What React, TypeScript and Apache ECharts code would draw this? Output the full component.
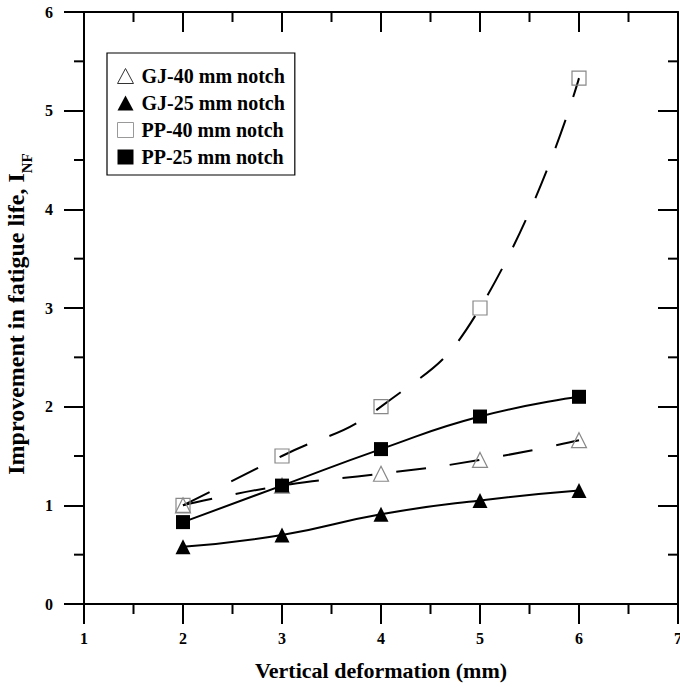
import React, { useEffect, useRef } from "react";
import * as echarts from "echarts";

const xValues = [2, 3, 4, 5, 6];
const gj40 = [1.0, 1.2, 1.32, 1.46, 1.66];
const gj25 = [0.58, 0.7, 0.91, 1.05, 1.15];
const pp40 = [1.0, 1.5, 2.0, 3.0, 5.33];
const pp25 = [0.83, 1.2, 1.57, 1.9, 2.1];
const seriesNames = ["GJ-40 mm notch", "GJ-25 mm notch", "PP-40 mm notch", "PP-25 mm notch"];
const xMinorTicks = [1.5, 2.5, 3.5, 4.5, 5.5, 6.5];
const yMinorTicks = [0.5, 1.5, 2.5, 3.5, 4.5, 5.5];

const FONT = "'Liberation Serif', 'Times New Roman', serif";
const X_MIN = 1, X_MAX = 7, Y_MIN = 0, Y_MAX = 6;
const MAJOR_LEN = 20, MINOR_LEN = 10;

function pairs(ys: number[]) {
  return xValues.map((x, i) => [x, ys[i]]);
}

function mkAxisLine() {
  return { show: true, onZero: false, lineStyle: { color: "#000", width: 2 } };
}
function mkTick(inside: boolean) {
  return { show: true, inside, length: MAJOR_LEN, lineStyle: { color: "#000", width: 2 } };
}

export default function App() {
  const ref = useRef<HTMLDivElement>(null);
  useEffect(() => {
    if (!ref.current) return;
    const chart = echarts.init(ref.current, undefined, { renderer: "svg" });
    const labelStyle = { fontFamily: FONT, fontWeight: "bold", fontSize: 16, color: "#000" };
    const openStyle = { color: "rgba(255,255,255,0)", borderColor: "#888", borderWidth: 1.2 };
    const dashed = { color: "#000", width: 2, type: [30, 24] as any };
    const solid = { color: "#000", width: 2, type: "solid" as const };

    const xTickData = xMinorTicks.map((v) => [v, Y_MIN, MINOR_LEN]);
    const yTickData = yMinorTicks.map((v) => [X_MIN, v, MINOR_LEN]);

    chart.setOption({
      animation: false,
      backgroundColor: "#fff",
      grid: { left: 84, right: 2, top: 12, bottom: 86, containLabel: false, outerBoundsMode: "none" },
      xAxis: [
        {
          type: "value", position: "bottom", min: X_MIN, max: X_MAX, interval: 1,
          axisLine: mkAxisLine(), axisTick: mkTick(false), splitLine: { show: false },
          axisLabel: { show: true, ...labelStyle, margin: 26 },
          name: "Vertical deformation (mm)",
          nameLocation: "middle",
          nameGap: 55,
          nameTextStyle: { fontFamily: FONT, fontWeight: "bold", fontSize: 22, color: "#000" },
        },
        {
          type: "value", position: "top", min: X_MIN, max: X_MAX, interval: 1,
          axisLine: mkAxisLine(), axisTick: mkTick(true), splitLine: { show: false },
          axisLabel: { show: false },
        },
      ],
      yAxis: [
        {
          type: "value", position: "left", min: Y_MIN, max: Y_MAX, interval: 1,
          axisLine: mkAxisLine(), axisTick: mkTick(false), splitLine: { show: false },
          axisLabel: { show: true, ...labelStyle, margin: 31 },
          name: "{a|Improvement in fatigue life, I}{s|NF}",
          nameLocation: "middle",
          nameGap: 47,
          nameTextStyle: {
            fontFamily: FONT, fontWeight: "bold", fontSize: 24, color: "#000",
            padding: [0, 12, 0, 0],
            rich: {
              a: { fontFamily: FONT, fontWeight: "bold", fontSize: 24, color: "#000", lineHeight: 30, verticalAlign: "top" },
              s: { fontFamily: FONT, fontWeight: "bold", fontSize: 15, color: "#000", lineHeight: 30, verticalAlign: "bottom" },
            },
          },
        },
        {
          type: "value", position: "right", min: Y_MIN, max: Y_MAX, interval: 1,
          axisLine: mkAxisLine(), axisTick: mkTick(true), splitLine: { show: false },
          axisLabel: { show: false },
        },
      ],
      legend: {
        orient: "vertical",
        left: 107,
        top: 53,
        padding: [13, 10, 8, 10],
        itemGap: 7,
        itemWidth: 16,
        itemHeight: 15,
        borderColor: "#000",
        borderWidth: 1.2,
        borderRadius: 0,
        backgroundColor: "#fff",
        textStyle: { fontFamily: FONT, fontWeight: "bold", fontSize: 20, color: "#000", padding: [0, 0, 0, 3], lineHeight: 19 },
        data: [
          { name: seriesNames[0], icon: "triangle", itemStyle: { color: "rgba(255,255,255,0)", borderColor: "#333", borderWidth: 1 } },
          { name: seriesNames[1], icon: "triangle", itemStyle: { color: "#000", borderWidth: 0 } },
          { name: seriesNames[2], icon: "rect", itemStyle: { color: "rgba(255,255,255,0)", borderColor: "#999", borderWidth: 1 } },
          { name: seriesNames[3], icon: "rect", itemStyle: { color: "#000", borderWidth: 0 } },
        ],
      },
      series: [
        {
          type: "custom", name: "xticks", clip: false, silent: true, z: 5,
          data: xTickData,
          encode: { x: 0, y: 1 },
          renderItem: (params: any, api: any) => {
            const v = api.value(0), len = api.value(2);
            const pb = api.coord([v, Y_MIN]);
            const pt = api.coord([v, Y_MAX]);
            return {
              type: "group",
              children: [
                { type: "rect", shape: { x: pb[0] - 1, y: pb[1], width: 2, height: len }, style: { fill: "#000" } },
                { type: "rect", shape: { x: pt[0] - 1, y: pt[1], width: 2, height: len }, style: { fill: "#000" } },
              ],
            };
          },
        },
        {
          type: "custom", name: "yticks", clip: false, silent: true, z: 5,
          data: yTickData,
          encode: { x: 0, y: 1 },
          renderItem: (params: any, api: any) => {
            const v = api.value(1), len = api.value(2);
            const pl = api.coord([X_MIN, v]);
            const pr = api.coord([X_MAX, v]);
            return {
              type: "group",
              children: [
                { type: "rect", shape: { x: pl[0] - len, y: pl[1] - 1, width: len, height: 2 }, style: { fill: "#000" } },
                { type: "rect", shape: { x: pr[0] - len, y: pr[1] - 1, width: len, height: 2 }, style: { fill: "#000" } },
              ],
            };
          },
        },
        {
          name: seriesNames[2], type: "line", data: pairs(pp40), smooth: 0.5,
          symbol: "rect", symbolSize: 14, itemStyle: openStyle, lineStyle: dashed,
        },
        {
          name: seriesNames[0], type: "line", data: pairs(gj40), smooth: 0.5,
          symbol: "triangle", symbolSize: 15, itemStyle: openStyle, lineStyle: dashed,
        },
        {
          name: seriesNames[1], type: "line", data: pairs(gj25), smooth: 0.5,
          symbol: "triangle", symbolSize: 15, itemStyle: { color: "#000" }, lineStyle: solid,
        },
        {
          name: seriesNames[3], type: "line", data: pairs(pp25), smooth: 0.5,
          symbol: "rect", symbolSize: 14, itemStyle: { color: "#000" }, lineStyle: solid,
        },
      ],
    });

    return () => chart.dispose();
  }, []);
  return <div ref={ref} style={{ width: 680, height: 690, position: "absolute", left: 0, top: 0 }} />;
}
